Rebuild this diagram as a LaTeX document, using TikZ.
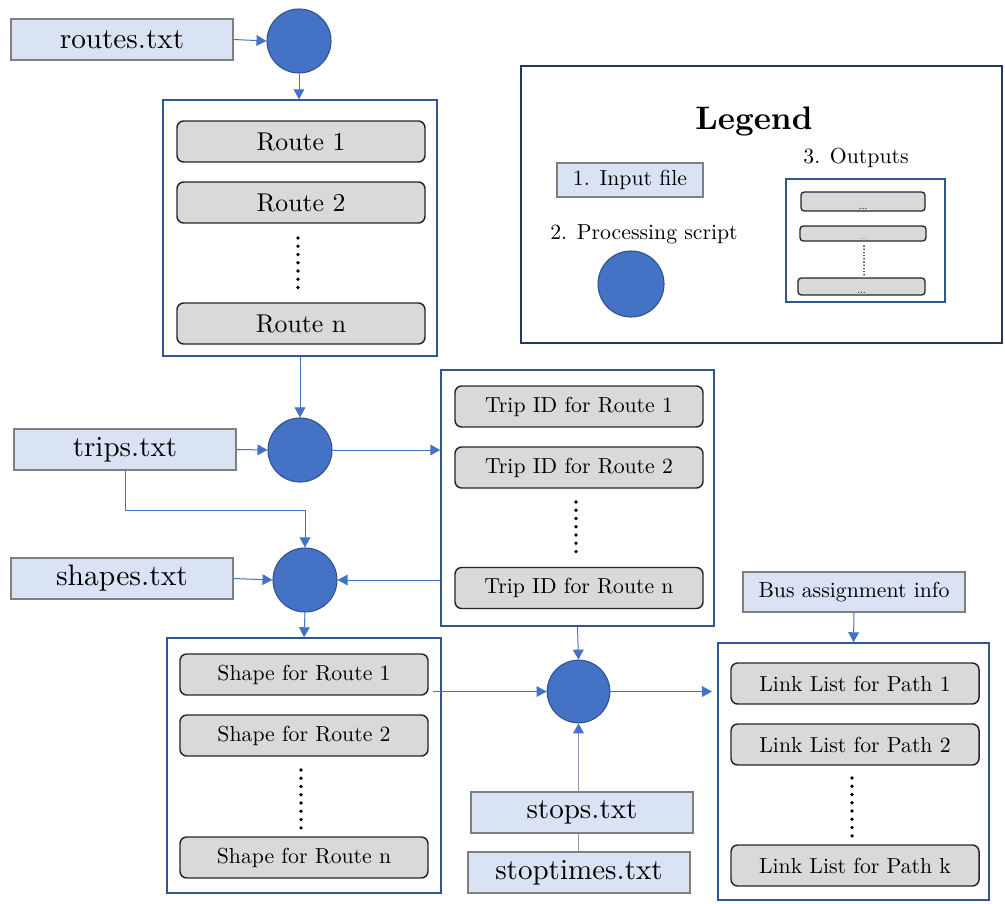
\documentclass[tikz,border=0pt]{standalone}
\usepackage{fontspec}
\setmainfont{lmroman10-regular.otf}[BoldFont=lmroman10-bold.otf]
\usetikzlibrary{arrows.meta}
\definecolor{inblue}{HTML}{DAE3F3}
\definecolor{ingray}{HTML}{7F7F7F}
\definecolor{procfill}{HTML}{4472C4}
\definecolor{procline}{HTML}{2F528F}
\definecolor{contline}{HTML}{2F5597}
\definecolor{outfill}{HTML}{D9D9D9}
\definecolor{legline}{HTML}{1F3864}
\definecolor{arrowc}{HTML}{4472C4}
\definecolor{grayline}{HTML}{8C9CB8}
\tikzset{
 bw/.style={minimum width=#1*0.75pt},
 bh/.style={minimum height=#1*0.75pt},
 infile/.style={draw=ingray, fill=inblue, line width=1.1pt, inner sep=0pt, bw=222, bh=41},
 proc/.style={circle, draw=procline, fill=procfill, line width=0.8pt, minimum size=48pt, inner sep=0pt},
 cont/.style={draw=contline, line width=1.1pt, inner sep=0pt},
 outbox/.style={draw=black!85, fill=outfill, rounded corners=5pt, line width=1.1pt, inner sep=0pt, bw=248, bh=41},
 lbar/.style={draw=black!85, fill=outfill, rounded corners=2.5pt, line width=1pt, inner sep=0pt},
 conn/.style={draw=arrowc, line width=0.75pt, -{Triangle[length=7.5pt,width=8pt]}},
 vdots/.style={line width=2.8pt, line cap=round, dash pattern=on 0pt off 6.2pt},
 big/.style={font=\fontsize{21.8}{24}\selectfont},
 rte/.style={font=\fontsize{19.3}{22}\selectfont},
 mid/.style={font=\fontsize{16.3}{19}\selectfont},
 tinydots/.style={font=\fontsize{8}{8}\selectfont, inner sep=0pt, anchor=south},
}
\begin{document}
\begin{tikzpicture}[x=0.75pt,y=-0.75pt]
\useasboundingbox (0,0) rectangle (1005,903);

% ---------- routes ----------
\node[infile, font=\fontsize{21.9}{24}\selectfont] (routes) at (122,39.5) {routes.txt};
\node[proc] (c1) at (299,41) {};
\node[cont, bw=274, bh=256] (rcont) at (300,228) {};
\node[outbox, rte] (r1) at (301,141.5) {Route 1};
\node[outbox, rte] (r2) at (301,202.5) {Route 2};
\node[outbox, rte] (rn) at (301,323.5) {Route n};
\coordinate (rd1) at (298,238);
\coordinate (rd2) at (298,292);
\draw[vdots] (rd1) -- (rd2);

% ---------- trips ----------
\node[proc] (c2) at (300,450) {};
\node[infile, big] (trips) at (125,449.5) {trips.txt};
\node[cont, bw=273, bh=256] (tcont) at (577.5,498) {};
\node[outbox, mid] (t1) at (579,406.5) {Trip ID for Route 1};
\node[outbox, mid] (t2) at (579,467.5) {Trip ID for Route 2};
\node[outbox, mid] (tn) at (579,588) {Trip ID for Route n};
\coordinate (td1) at (576,502);
\coordinate (td2) at (576,558);
\draw[vdots] (td1) -- (td2);

% ---------- shapes ----------
\node[proc] (c3) at (305,580) {};
\node[infile, font=\fontsize{22.2}{25}\selectfont] (shapes) at (122,578.5) {shapes.txt};
\node[cont, bw=274, bh=255] (scont) at (304,765.5) {};
\node[outbox, mid] (s1) at (304,674.5) {Shape for Route 1};
\node[outbox, mid] (s2) at (304,735.5) {Shape for Route 2};
\node[outbox, mid] (sn) at (304,857.5) {Shape for Route n};
\coordinate (sd1) at (301,770);
\coordinate (sd2) at (301,828);
\draw[vdots] (sd1) -- (sd2);

% ---------- links ----------
\node[proc, minimum size=47pt] (c4) at (578.5,691.5) {};
\node[infile, big] (stops) at (582,812.5) {stops.txt};
\node[infile, big] (stoptimes) at (579,872.5) {stoptimes.txt};
\node[infile, mid, bh=40] (bus) at (854,592) {Bus assignment info};
\node[cont, bw=271, bh=257] (lcont) at (853.5,771.5) {};
\node[outbox, mid] (l1) at (855,683.5) {Link List for Path 1};
\node[outbox, mid] (l2) at (855,744.5) {Link List for Path 2};
\node[outbox, mid] (lk) at (855,865.5) {Link List for Path k};
\coordinate (ld1) at (852,778);
\coordinate (ld2) at (852,836);
\draw[vdots] (ld1) -- (ld2);

% ---------- connectors ----------
\draw[conn] (routes.east) -- (c1.west);
\draw[conn] (c1.south) -- (c1.south |- rcont.north);
\draw[conn] (rcont.south) -- (c2.north);
\draw[conn] (trips.east) -- (c2.west);
\draw[conn] (c2.east) -- (c2.east -| tcont.west);
\draw[conn] (trips.south) -- ++(0,40) -| (c3.north);
\draw[conn] (shapes.east) -- (c3.west);
\draw[conn] (c3.east -| tcont.west) -- (c3.east);
\draw[conn] (c3.south) -- (scont.north);
\draw[conn] ([xshift=3pt]c4.west -| s1.east) -- (c4.west);
\draw[conn] (tcont.south) -- (c4.north);
\draw[conn, shorten >=4pt] (c4.east) -- (c4.east -| lcont.west);
\draw[draw=grayline, line width=0.9pt, -{Triangle[length=7.5pt,width=8pt,color=arrowc]}] (stops.north -| c4.south) -- (c4.south);
\draw[draw=grayline, line width=0.9pt] (stops.south -| c4.south) -- (stoptimes.north -| c4.south);
\draw[conn] (bus.south) -- (lcont.north);

% ---------- legend ----------
\node[draw=legline, line width=2.2pt, bw=481, bh=277] (legbox) at (761.5,204.5) {};
\node[font=\fontsize{24.4}{28}\selectfont\bfseries] (legtitle) at (754,121) {Legend};
\node[infile, mid, bw=146, bh=34, line width=1pt] (legin) at (630,180) {1. Input file};
\node[mid] (legouttxt) at (856,158) {3. Outputs};
\node[mid] (legproctxt) at (644,234) {2. Processing script};
\node[proc, minimum size=49.5pt] (legproc) at (631,284) {};
\node[draw=contline, line width=1pt, bw=159, bh=123] (legout) at (865.5,240.5) {};
\node[lbar, bw=124, bh=19] (b1) at (863,201.5) {};
\node[lbar, bw=126, bh=15] (b2) at (863,233.5) {};
\node[lbar, bw=127, bh=17] (b3) at (861.5,286.5) {};
\node[tinydots] at ([yshift=1pt]b1.south) {...};
\node[tinydots, text=black!40] at ([yshift=1pt]b2.south) {...};
\node[tinydots] at ([yshift=1pt]b3.south) {...};
\coordinate (lgd1) at (864,246);
\coordinate (lgd2) at (864,276);
\draw[line width=1.2pt, line cap=round, dash pattern=on 0pt off 2.4pt] (lgd1) -- (lgd2);
\end{tikzpicture}
\end{document}
